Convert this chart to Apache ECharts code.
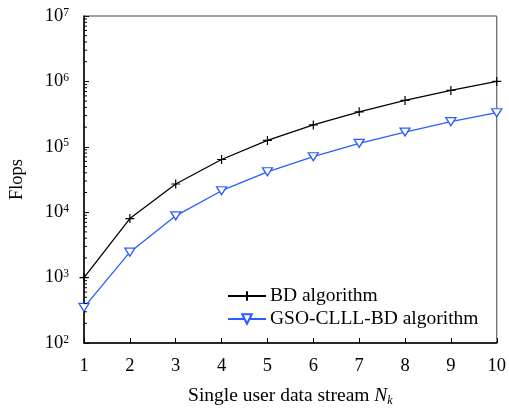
<!DOCTYPE html>
<html>
<head>
<meta charset="utf-8">
<script src="https://cdn.jsdelivr.net/npm/echarts@6/dist/echarts.min.js"></script>
<style>html,body{margin:0;padding:0;background:#fff;}#c{width:509px;height:412px;}</style>
</head>
<body>
<div id="c"></div>
<script>
const streams = [1, 2, 3, 4, 5, 6, 7, 8, 9, 10];
const bdFlops = [1000, 8000, 27000, 64000, 125000, 216000, 343000, 512000, 729000, 1000000];
const gsoFlops = [350, 2450, 8800, 21300, 41500, 70500, 113000, 168000, 242000, 332000];
const seriesNames = ['BD algorithm', 'GSO-CLLL-BD algorithm'];
const yMin = 100, yMax = 10000000;
const minorTickValues = [];
for (let d = 2; d <= 6; d++) for (let m = 2; m <= 9; m++) minorTickValues.push(m * Math.pow(10, d));

const FONT = 'Liberation Serif';
const BLUE = '#2b5cff';
const chart = echarts.init(document.getElementById('c'), null, {renderer: 'canvas'});
chart.setOption({
  animation: false,
  backgroundColor: '#fff',
  grid: {left: 82, right: 11, top: 16, bottom: 69, show: true, borderColor: '#444', borderWidth: 1},
  legend: {
    orient: 'vertical', left: 222, top: 281, itemWidth: 38, itemHeight: 12, itemGap: 3,
    data: seriesNames,
    textStyle: {fontFamily: FONT, fontSize: 19.5, color: '#000', padding: [0, 0, 0, -1]}
  },
  xAxis: {
    type: 'value', min: 1, max: 10, interval: 1,
    name: '{n|Single user data stream }{i|N}{s|k}',
    nameLocation: 'middle', nameGap: 43,
    nameTextStyle: {
      rich: {
        n: {fontFamily: FONT, fontSize: 19.5, color: '#000', verticalAlign: 'top'},
        i: {fontFamily: FONT, fontSize: 19.5, fontStyle: 'italic', color: '#000', verticalAlign: 'top'},
        s: {fontFamily: FONT, fontSize: 12, fontStyle: 'italic', color: '#000', verticalAlign: 'bottom', padding: [9, 0, 0, 0]}
      }
    },
    axisLine: {lineStyle: {color: '#000', width: 1.5}},
    axisTick: {inside: true, length: 5, lineStyle: {color: '#000'}},
    axisLabel: {fontFamily: FONT, fontSize: 18.5, color: '#000', margin: 14},
    splitLine: {show: false}
  },
  yAxis: {
    type: 'log', logBase: 10, min: yMin, max: yMax, splitNumber: 5,
    name: 'Flops', nameLocation: 'middle', nameGap: 57,
    nameTextStyle: {fontFamily: FONT, fontSize: 18.5, color: '#000'},
    axisLine: {lineStyle: {color: '#000', width: 1.5}},
    axisTick: {inside: true, length: 5, lineStyle: {color: '#000'}},
    axisLabel: {
      margin: 15,
      formatter: function (v) { return '{b|10}{s|' + Math.round(Math.log10(v)) + '}'; },
      rich: {
        b: {fontFamily: FONT, fontSize: 18.5, color: '#000'},
        s: {fontFamily: FONT, fontSize: 11.5, color: '#000', verticalAlign: 'top'}
      }
    },
    splitLine: {show: false}
  },
  series: [
    {
      name: seriesNames[0], type: 'line',
      data: streams.map((x, i) => [x, bdFlops[i]]),
      symbol: 'path://M0,5L10,5M5,0L5,10', symbolSize: 9,
      itemStyle: {color: '#000', borderColor: '#000', borderWidth: 1.2},
      lineStyle: {color: '#000', width: 1.3}
    },
    {
      name: seriesNames[1], type: 'line',
      data: streams.map((x, i) => [x, gsoFlops[i]]),
      symbol: 'triangle', symbolRotate: 180, symbolSize: [10, 8],
      itemStyle: {color: '#fff', borderColor: BLUE, borderWidth: 1.3},
      lineStyle: {color: BLUE, width: 1.3}
    },
    {
      type: 'custom', silent: true, clip: false, z: 5,
      data: minorTickValues.map(v => [1, v]),
      renderItem: function (params, api) {
        const p = api.coord([api.value(0), api.value(1)]);
        return {type: 'line', shape: {x1: p[0], y1: p[1], x2: p[0] + 3, y2: p[1]}, style: {stroke: '#000', lineWidth: 1}};
      }
    }
  ]
});
</script>
</body>
</html>
